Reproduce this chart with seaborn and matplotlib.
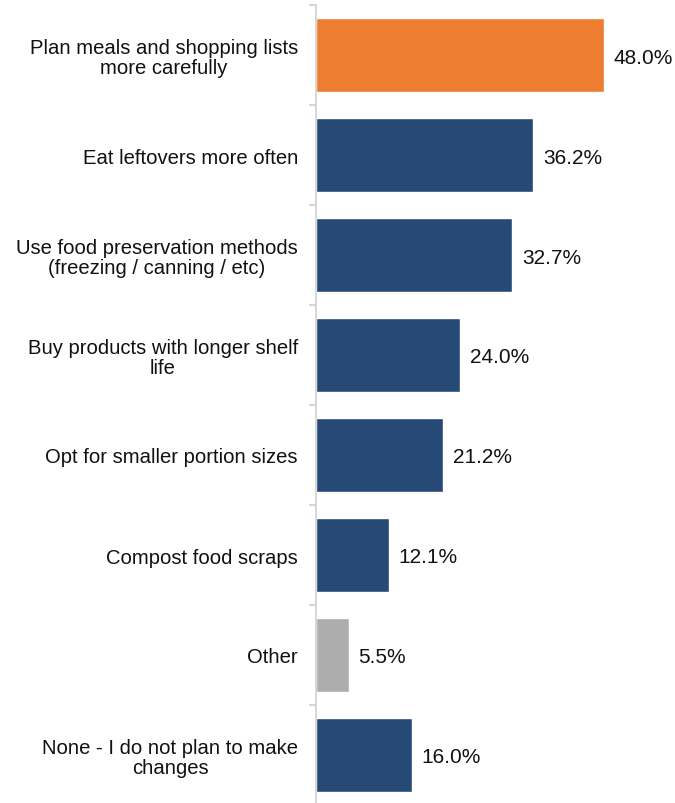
import matplotlib
matplotlib.use("Agg")
import matplotlib.pyplot as plt
import seaborn as sns
import pandas as pd
import numpy as np

categories = [
    "Plan meals and shopping lists\nmore carefully",
    "Eat leftovers more often",
    "Use food preservation methods\n(freezing / canning / etc)",
    "Buy products with longer shelf\nlife",
    "Opt for smaller portion sizes",
    "Compost food scraps",
    "Other",
    "None - I do not plan to make\nchanges",
]
values = [48.0, 36.2, 32.7, 24.0, 21.2, 12.1, 5.5, 16.0]
colors = ["#ED7D31", "#264A75", "#264A75", "#264A75", "#264A75", "#264A75", "#ADADAD", "#264A75"]

sns.set_theme(style="white")
plt.rcParams['font.family'] = ['Liberation Sans', 'DejaVu Sans']

df = pd.DataFrame({"cat": categories, "val": values})

fig = plt.figure(figsize=(6.75, 8.04), dpi=100)
ax = fig.add_axes([316/675, 1 - 806/804, 360/675, 800/804])

sns.barplot(data=df, x="val", y="cat", hue="cat", palette=colors, legend=False,
            width=0.74, ax=ax, orient="h", saturation=1)

ax.set_xlim(0, 60)
ax.set_ylim(len(categories) - 0.5, -0.5)
ax.set_xlabel("")
ax.set_ylabel("")
ax.set_xticks([])

for s in ["top", "right", "bottom"]:
    ax.spines[s].set_visible(False)
ax.spines["left"].set_color("#D0D0D0")
ax.spines["left"].set_linewidth(1.2)

ax.set_yticks(range(len(categories)))
ax.set_yticklabels(categories, fontsize=14.6, color="#111111", multialignment="center",
                   linespacing=1.05)
ax.tick_params(axis="y", which="major", length=0, pad=13)
ax.set_yticks(np.arange(-0.5, len(categories), 1), minor=True)
ax.tick_params(axis="y", which="minor", length=5, color="#D0D0D0", width=1.2, left=True)

for i, v in enumerate(values):
    ax.text(v + 1.6, i + 0.02, f"{v:.1f}%", va="center", ha="left", fontsize=15, color="#111111")

fig.savefig("out.png", dpi=100)
